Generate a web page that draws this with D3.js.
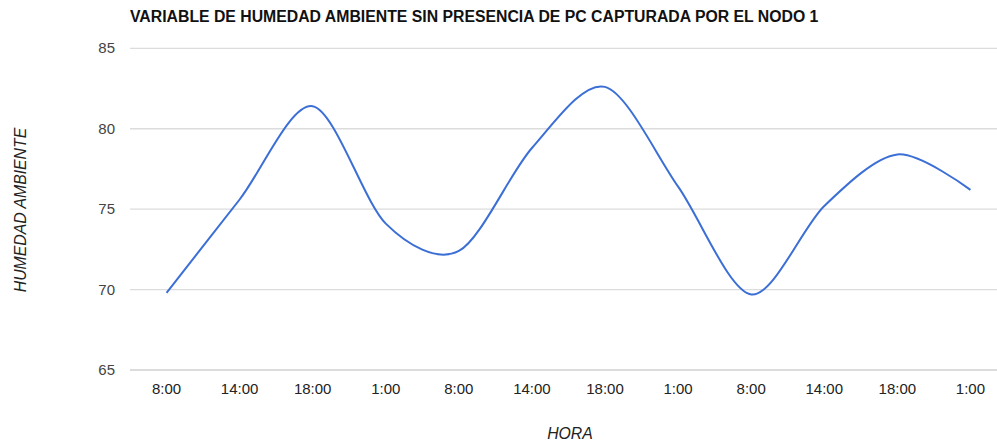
<!doctype html>
<html>
<head>
<style>
    body { margin: 0; background: #fff; }
    text { font-family: "Liberation Sans", Arial, sans-serif; }
</style>
<script src="https://d3js.org/d3.v7.min.js"></script>
</head>
<body>

    <svg id="chart" width="997" height="444"></svg>

    <script>

        // Data
        var horas = ["8:00", "14:00", "18:00", "1:00", "8:00", "14:00", "18:00", "1:00", "8:00", "14:00", "18:00", "1:00"];
        var humedad = [69.8, 75.6, 81.4, 74.1, 72.4, 78.8, 82.6, 76.4, 69.7, 75.2, 78.4, 76.2];
        var yTicks = [65, 70, 75, 80, 85];

        var svg = d3.select("#chart");
        var plotLeft = 130, plotRight = 1007, plotTop = 48.3, plotBottom = 370;

        // Scales
        var x = d3.scaleBand()
          .domain(d3.range(horas.length))
          .range([plotLeft, plotRight]);
        var y = d3.scaleLinear()
          .domain([65, 85])
          .range([plotBottom, plotTop]);

        // Title
        svg.append("text")
          .attr("x", 130).attr("y", 22)
          .attr("font-size", 15.8).attr("font-weight", "bold")
          .attr("fill", "#111")
          .text("VARIABLE DE HUMEDAD AMBIENTE SIN PRESENCIA DE PC CAPTURADA POR EL NODO 1");

        // Gridlines
        svg.append("g")
          .selectAll("line")
          .data(yTicks)
          .enter()
          .append("line")
            .attr("x1", plotLeft).attr("x2", plotRight)
            .attr("y1", function (d) { return y(d); })
            .attr("y2", function (d) { return y(d); })
            .attr("stroke", function (d) { return d === 65 ? "#d0d0d0" : "#dcdcdc"; })
            .attr("stroke-width", 1.3);

        // Y tick labels
        svg.append("g")
          .selectAll("text")
          .data(yTicks)
          .enter()
          .append("text")
            .attr("x", 115)
            .attr("y", function (d) { return y(d) + 5; })
            .attr("text-anchor", "end")
            .attr("font-size", 15)
            .attr("fill", "#444")
            .text(function (d) { return d; });

        // X tick labels
        svg.append("g")
          .selectAll("text")
          .data(horas)
          .enter()
          .append("text")
            .attr("x", function (d, i) { return x(i) + x.bandwidth() / 2; })
            .attr("y", 394)
            .attr("text-anchor", "middle")
            .attr("font-size", 15)
            .attr("fill", "#222")
            .text(function (d) { return d; });

        // Axis titles
        svg.append("text")
          .attr("x", 570).attr("y", 439)
          .attr("text-anchor", "middle")
          .attr("font-size", 15.8).attr("font-style", "italic")
          .attr("fill", "#222")
          .text("HORA");

        svg.append("text")
          .attr("transform", "translate(26,210) rotate(-90)")
          .attr("text-anchor", "middle")
          .attr("font-size", 15.8).attr("font-style", "italic")
          .attr("fill", "#222")
          .text("HUMEDAD AMBIENTE");

        // Line
        var line = d3.line()
          .x(function (d, i) { return x(i) + x.bandwidth() / 2; })
          .y(function (d) { return y(d); })
          .curve(d3.curveCardinal.tension(0.1));

        svg.append("path")
          .datum(humedad)
          .attr("d", line)
          .attr("fill", "none")
          .attr("stroke", "#3c6fd6")
          .attr("stroke-width", 2);

    </script>

</body>
</html>
